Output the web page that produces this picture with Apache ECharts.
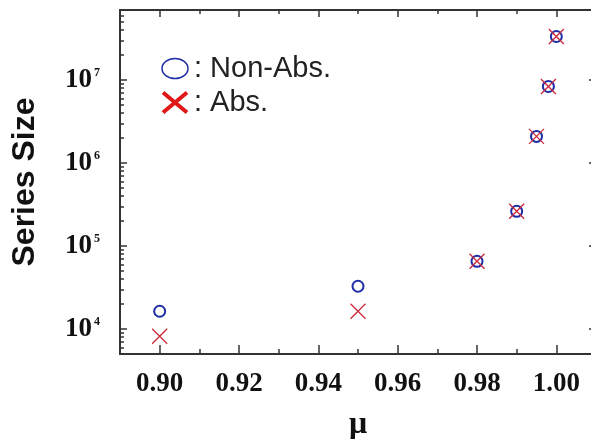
<!DOCTYPE html>
<html><head><meta charset="utf-8">
<script src="https://cdn.jsdelivr.net/npm/echarts@6/dist/echarts.min.js"></script>
<style>html,body{margin:0;padding:0;background:#fff}#c{width:591px;height:439px}</style>
</head><body><div id="c"></div>
<script>
// ---- data ----
const mu = [0.90, 0.95, 0.98, 0.99, 0.995, 0.998, 1.00];
const nonAbs = [16384, 32768, 65536, 262144, 2097152, 8388608, 33554432];
const abs = [8192, 16384, 65536, 262144, 2097152, 8388608, 33554432];
const seriesNames = ['Non-Abs.', 'Abs.'];
const xMajorTicks = [0.90, 0.92, 0.94, 0.96, 0.98, 1.00];
const xMinorTicks = [0.91, 0.93, 0.95, 0.97, 0.99, 1.01];
const yMajorTicks = [1e4, 1e5, 1e6, 1e7];
const yMinorTicks = [6e3, 7e3, 8e3, 9e3, 2e4, 3e4, 4e4, 5e4, 6e4, 7e4, 8e4, 9e4,
  2e5, 3e5, 4e5, 5e5, 6e5, 7e5, 8e5, 9e5, 2e6, 3e6, 4e6, 5e6, 6e6, 7e6, 8e6, 9e6,
  2e7, 3e7, 4e7, 5e7, 6e7];
const xLabel = 'μ';
const yLabel = 'Series Size';

const blue = '#1f2ea6', red = '#cc2a3a', legendRed = '#e01818';
const X_MIN = 0.89, X_MAX = 1.01, Y_MIN = 5000, Y_MAX = 7e7;
const crossPath = 'path://M0,0L16,16M16,0L0,16';
const legendCross = 'path://M0,0L24,20M24,0L0,20';
const legendEllipse = 'path://M0,10A13,10 0 1,0 26,10A13,10 0 1,0 0,10Z';

function xAxisDef(pos, ticks, len, showLabel) {
  return {
    type: 'value', min: X_MIN, max: X_MAX, position: pos,
    axisLine: {show: false}, splitLine: {show: false},
    axisTick: {show: true, inside: true, length: len, customValues: ticks, lineStyle: {color: '#333', width: 1.5}},
    axisLabel: showLabel ? {show: true, customValues: ticks, margin: 17,
      formatter: v => v.toFixed(2),
      fontFamily: 'Liberation Serif', fontWeight: 'bold', fontSize: 27, color: '#111'} : {show: false}
  };
}
function yAxisDef(pos, ticks, len, showLabel) {
  return {
    type: 'log', logBase: 10, min: Y_MIN, max: Y_MAX, position: pos,
    axisLine: {show: false}, splitLine: {show: false}, minorTick: {show: false},
    axisTick: {show: true, inside: true, length: len, customValues: ticks, lineStyle: {color: '#333', width: 1.5}},
    axisLabel: showLabel ? {show: true, customValues: ticks, margin: 20,
      formatter: v => '{b|10}{e|' + Math.round(Math.log10(v)) + '}',
      rich: {
        b: {fontFamily: 'Liberation Serif', fontWeight: 'bold', fontSize: 27, color: '#111'},
        e: {fontFamily: 'Liberation Serif', fontWeight: 'bold', fontSize: 12, color: '#111', verticalAlign: 'top', padding: [0, 0, 0, 2]}
      }} : {show: false}
  };
}

const xa0 = xAxisDef('bottom', xMajorTicks, 9, true);
xa0.name = xLabel; xa0.nameLocation = 'middle'; xa0.nameGap = 55;
xa0.nameTextStyle = {fontFamily: 'Liberation Serif', fontWeight: 'bold', fontSize: 32, color: '#111'};
const ya0 = yAxisDef('left', yMajorTicks, 7, true);
ya0.name = yLabel; ya0.nameLocation = 'middle'; ya0.nameGap = 79;
ya0.nameTextStyle = {fontFamily: 'Liberation Sans', fontWeight: 'bold', fontSize: 32, color: '#111'};

const chart = echarts.init(document.getElementById('c'), null, {renderer: 'canvas'});
chart.setOption({
  animation: false,
  backgroundColor: '#fff',
  grid: {left: 120, top: 10, right: -5, bottom: 85, containLabel: false, outerBoundsMode: 'none',
    show: true, borderColor: '#333', borderWidth: 2, backgroundColor: 'transparent'},
  xAxis: [xa0,
    xAxisDef('bottom', xMinorTicks, 5, false),
    xAxisDef('top', xMajorTicks, 7, false),
    xAxisDef('top', xMinorTicks, 4, false)],
  yAxis: [ya0,
    yAxisDef('left', yMinorTicks, 4, false),
    yAxisDef('right', yMajorTicks, 7, false),
    yAxisDef('right', yMinorTicks, 4, false)],
  legend: {
    orient: 'vertical', left: 161, top: 54, padding: 0, itemWidth: 26, itemHeight: 20, itemGap: 5,
    formatter: n => ': ' + n,
    textStyle: {fontFamily: 'Liberation Sans', fontSize: 29, color: '#222', padding: [0, 0, 0, 1]},
    data: [
      {name: seriesNames[0], icon: legendEllipse, itemStyle: {color: 'transparent', borderColor: blue, borderWidth: 1.5}},
      {name: seriesNames[1], icon: legendCross, itemStyle: {color: 'transparent', borderColor: legendRed, borderWidth: 4}}
    ]
  },
  series: [
    {name: seriesNames[0], type: 'scatter', xAxisIndex: 0, yAxisIndex: 0,
     symbol: 'circle', symbolSize: 11,
     itemStyle: {color: 'transparent', borderColor: blue, borderWidth: 2, opacity: 1},
     data: mu.map((m, i) => [m, nonAbs[i]])},
    {name: seriesNames[1], type: 'scatter', xAxisIndex: 0, yAxisIndex: 0,
     symbol: crossPath, symbolSize: 15,
     itemStyle: {color: 'transparent', borderColor: red, borderWidth: 1.3, opacity: 1},
     data: mu.map((m, i) => [m, abs[i]])}
  ]
});
</script></body></html>
